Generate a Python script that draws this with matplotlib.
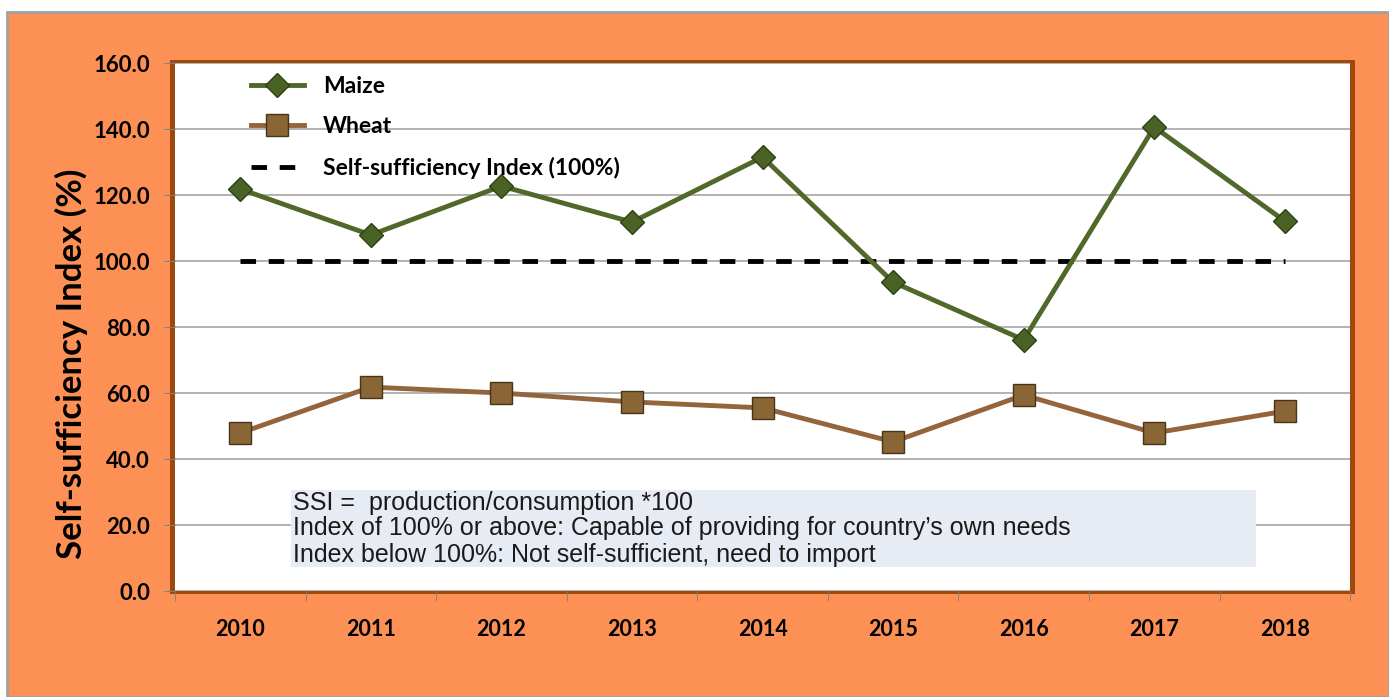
import matplotlib.pyplot as plt
from matplotlib.patches import Rectangle

years = ['2010', '2011', '2012', '2013', '2014', '2015', '2016', '2017', '2018']
maize = [121.8, 107.9, 122.7, 111.8, 131.5, 93.6, 76.1, 140.6, 112.1]
wheat = [47.9, 61.8, 60.0, 57.3, 55.5, 45.2, 59.4, 47.9, 54.5]
ssi_line = [100] * len(years)
yticks = [0, 20, 40, 60, 80, 100, 120, 140, 160]
note_lines = ['SSI =  production/consumption *100',
              'Index of 100% or above: Capable of providing for country\u2019s own needs',
              'Index below 100%: Not self-sufficient, need to import']

bold_font = ['Lato', 'DejaVu Sans']
orange = '#fd9155'
brown = '#9e4a0c'

fig = plt.figure(figsize=(13.89, 6.97), dpi=100)
fig.patch.set_facecolor('white')

# orange panel behind the chart
fig.patches.append(Rectangle((0.005, 0.0), 0.995, 0.983, transform=fig.transFigure,
                             facecolor=orange, edgecolor='#a0a0a0', linewidth=2, zorder=-2))
# brown frame around the plot area
fig.patches.append(Rectangle((0.1225, 0.148), 0.853, 0.766, transform=fig.transFigure,
                             facecolor=brown, edgecolor='none', zorder=-1))

ax = fig.add_axes([0.126, 0.152, 0.846, 0.7576])
ax.set_zorder(2)
ax.set_facecolor('white')

x = list(range(len(years)))
ax.plot(x, maize, color='#50692a', linewidth=3.5, marker='D', markersize=12,
        markerfacecolor='#4a6325', markeredgecolor='#2f4216', markeredgewidth=1,
        label='Maize', zorder=4)
ax.plot(x, wheat, color='#94653d', linewidth=3.5, marker='s', markersize=16,
        markerfacecolor='#8a6536', markeredgecolor='#4a3418', markeredgewidth=1,
        label='Wheat', zorder=4)
ax.plot(x, ssi_line, color='black', linewidth=3.5, linestyle=(0, (3.2, 2.6)),
        label='Self-sufficiency Index (100%)', zorder=3)

ax.set_xlim(-0.5, len(years) - 0.5)
ax.set_ylim(0, 160)
ax.set_yticks(yticks)
ax.set_yticklabels([f'{v:.1f}' for v in yticks], fontfamily=bold_font,
                   fontweight='bold', fontsize=16)
ax.set_xticks(x)
ax.set_xticklabels(years, fontfamily=bold_font, fontweight='bold', fontsize=15.5)
ax.set_xticks([i - 0.5 for i in range(len(years) + 1)], minor=True)
ax.tick_params(axis='x', which='major', length=0, pad=20)
ax.tick_params(axis='x', which='minor', length=7, color='#808080', direction='out')
ax.tick_params(axis='y', length=8, color='#808080', pad=10)
ax.grid(axis='y', color='#a6a6a6', linewidth=1.2, zorder=1)
for s in ax.spines.values():
    s.set_visible(False)

ax.set_ylabel('Self-sufficiency Index (%)', fontfamily=bold_font, fontweight='bold',
              fontsize=25)
ax.yaxis.set_label_coords(-0.074, 0.43)

leg = ax.legend(loc='upper left', bbox_to_anchor=(0.047, 1.015), frameon=False,
                prop={'family': bold_font, 'weight': 'bold', 'size': 16.5},
                handlelength=2.3, labelspacing=0.85, handletextpad=0.85)

# note box
ax.add_patch(Rectangle((0.39, 7.3), 7.39, 23.3, facecolor='#e7ebf3', edgecolor='none', zorder=2))
for i, line in enumerate(note_lines):
    ax.text(0.405, [26.7, 19.1, 10.9][i], line, fontfamily=['Liberation Sans', 'DejaVu Sans'],
            fontsize=18, va='center', ha='left', color='#1a1a1a', zorder=3)

fig.savefig('out.png', dpi=100, facecolor=fig.get_facecolor())
